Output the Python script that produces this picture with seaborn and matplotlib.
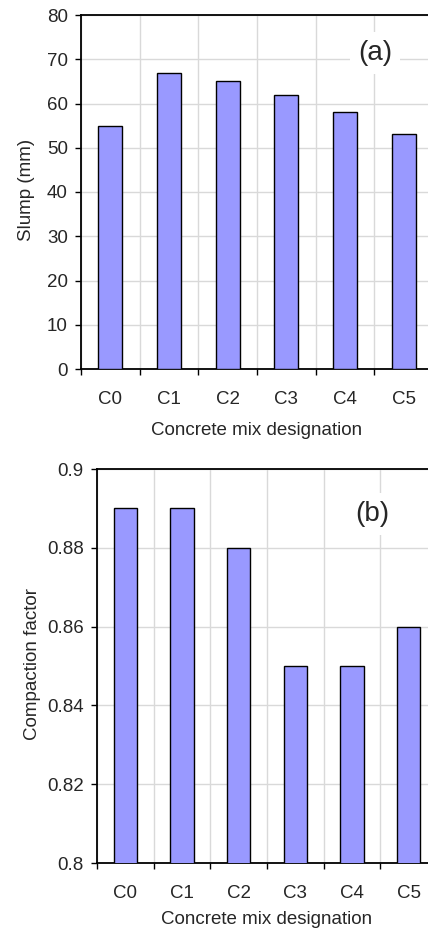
import matplotlib
matplotlib.use("Agg")
import matplotlib.pyplot as plt
import seaborn as sns
import numpy as np

sns.set_style("white")
plt.rcParams['font.family'] = ['Liberation Sans', 'DejaVu Sans']

# data
mixes = ["C0", "C1", "C2", "C3", "C4", "C5"]
slump = [55, 67, 65, 62, 58, 53]
compaction = [0.89, 0.89, 0.88, 0.85, 0.85, 0.86]

bar_color = "#9999ff"
grid_color = "#d9d9d9"
fs = 13.5

fig = plt.figure(figsize=(4.28, 9.31), dpi=100)
W, H = 428, 931
ax1 = fig.add_axes([81 / W, 1 - 369 / H, (433 - 81) / W, (369 - 15) / H])
ax2 = fig.add_axes([97 / W, 1 - 863 / H, (437 - 97) / W, (863 - 469) / H])


def style_axis(ax, values, ylim, yticks, ylabel, label_x, tag, tag_xy, fmt, xpad):
    sns.barplot(x=mixes, y=values, ax=ax, color=bar_color, width=0.41,
                edgecolor="black", linewidth=1, saturation=1, zorder=3)
    ax.set_xlim(-0.5, len(mixes) - 0.5)
    ax.set_ylim(*ylim)
    ax.set_yticks(yticks)
    ax.set_yticklabels([fmt(v) for v in yticks], fontsize=fs)
    # category boundaries carry the tick marks and gridlines
    ax.set_xticks(np.arange(len(mixes) + 1) - 0.5)
    ax.set_xticklabels([])
    ax.set_xticks(np.arange(len(mixes)), minor=True)
    ax.set_xticklabels(mixes, minor=True, fontsize=fs)
    ax.tick_params(axis="x", which="major", bottom=True, direction="out",
                   length=4, width=1, color="black")
    ax.tick_params(axis="x", which="minor", bottom=True, length=0, pad=16)
    ax.tick_params(axis="y", left=True, direction="out", length=4, width=1,
                   color="black", pad=5.5)
    ax.grid(True, which="major", color=grid_color, linewidth=1, zorder=0)
    ax.set_axisbelow(True)
    for s in ["left", "bottom", "top"]:
        ax.spines[s].set_color("black")
        ax.spines[s].set_linewidth(1.3)
    ax.spines["right"].set_visible(False)
    ax.set_xlabel("Concrete mix designation", fontsize=fs, labelpad=xpad)
    ax.set_ylabel(ylabel, fontsize=fs)
    ax.yaxis.set_label_coords(label_x, 0.505)
    ax.text(tag_xy[0], tag_xy[1], tag, transform=ax.transAxes, fontsize=20,
            ha="center", va="center", zorder=4,
            bbox=dict(facecolor="white", edgecolor="none", pad=6))


style_axis(ax1, slump, (0, 80), np.arange(0, 81, 10), "Slump (mm)",
           (35 - 81) / 352, "(a)",
           ((375 - 81) / (433 - 81), (369 - 53) / (369 - 15)), lambda v: f"{v:.0f}", 10)
style_axis(ax2, compaction, (0.8, 0.9), [0.8, 0.82, 0.84, 0.86, 0.88, 0.9],
           "Compaction factor", (41 - 97) / 340, "(b)",
           ((372 - 97) / (437 - 97), (863 - 514) / (863 - 469)), lambda v: f"{v:g}", 6.5)

fig.savefig("out.png", dpi=100)
